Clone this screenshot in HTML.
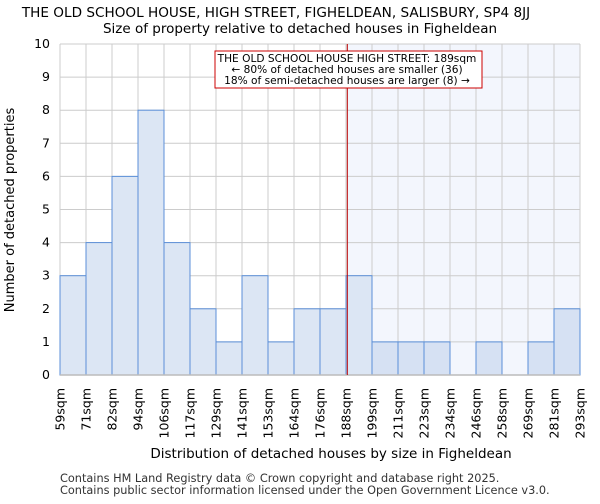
<!DOCTYPE html>
<html><head><meta charset="utf-8"><style>
body{margin:0;background:#fff;font-family:"DejaVu Sans","Liberation Sans",sans-serif;}
</style></head><body>
<svg width="600" height="500" xmlns="http://www.w3.org/2000/svg" font-family="DejaVu Sans, Liberation Sans, sans-serif">
<text x="276" y="17" text-anchor="middle" font-size="13.6">THE OLD SCHOOL HOUSE, HIGH STREET, FIGHELDEAN, SALISBURY, SP4 8JJ</text>
<text x="300" y="33" text-anchor="middle" font-size="13.5">Size of property relative to detached houses in Figheldean</text>
<g id="plot"></g>
<text x="331" y="458" text-anchor="middle" font-size="13.5">Distribution of detached houses by size in Figheldean</text>
<text transform="translate(14,210) rotate(-90)" text-anchor="middle" font-size="13">Number of detached properties</text>
<text x="60" y="482" font-size="11.3" fill="#333">Contains HM Land Registry data © Crown copyright and database right 2025.</text>
<text x="60" y="494" font-size="11.3" fill="#333">Contains public sector information licensed under the Open Government Licence v3.0.</text>
</svg>
<script>
const categories=["59sqm","71sqm","82sqm","94sqm","106sqm","117sqm","129sqm","141sqm","153sqm","164sqm","176sqm","188sqm","199sqm","211sqm","223sqm","234sqm","246sqm","258sqm","269sqm","281sqm","293sqm"];
const counts=[3,4,6,8,4,2,1,3,1,2,2,3,1,1,1,0,1,0,1,2];
const yTicks=[0,1,2,3,4,5,6,7,8,9,10];
const propertyIndex=11.05;
const NS="http://www.w3.org/2000/svg";
const g=document.getElementById('plot');
const L=60,R=580,T=44,B=375,yMax=10;
const bw=(R-L)/counts.length;
const xs=i=>L+i*bw;
const ys=v=>B-(v/yMax)*(B-T);
function mk(t,a){const e=document.createElementNS(NS,t);for(const k in a)e.setAttribute(k,a[k]);g.appendChild(e);return e;}
const px=xs(propertyIndex);
let e=mk('rect',{x:px,y:T,width:R-px,height:B-T,fill:'#f3f6fd'});


for(const t of yTicks){e=mk('line',{x1:L,x2:R,y1:ys(t),y2:ys(t),stroke:'#ccc','stroke-width':1});


e=mk('text',{x:L-10,y:ys(t)+4,'text-anchor':'end','font-size':12.5});e.textContent=t;

}
for(let i=0;i<=counts.length;i++){e=mk('line',{x1:xs(i),x2:xs(i),y1:T,y2:B,stroke:'#ccc','stroke-width':1});

}
counts.forEach((v,i)=>{if(v<=0)return;const right=xs(i)>=px-1;
e=mk('rect',{x:xs(i),y:ys(v),width:bw,height:B-ys(v),fill:right?'#d6e1f3':'#dce6f4',stroke:'#5b8fd8','stroke-width':1});

});
e=mk('line',{x1:L,x2:R,y1:B,y2:B,stroke:'#bbb','stroke-width':1.5});


categories.forEach((c,i)=>{const x=xs(i);e=mk('text',{transform:`translate(${x+4.5},388) rotate(-90)`,'text-anchor':'end','font-size':12.5});e.textContent=c;

});
e=mk('line',{x1:px,x2:px,y1:T,y2:B,stroke:'#b00','stroke-width':1});


e=mk('rect',{x:215,y:51,width:267,height:37,fill:'#fff',stroke:'#c00','stroke-width':1});


["THE OLD SCHOOL HOUSE HIGH STREET: 189sqm","← 80% of detached houses are smaller (36)","18% of semi-detached houses are larger (8) →"].forEach((s,k)=>{
e=mk('text',{x:347,y:62+k*11,'text-anchor':'middle','font-size':10.6});e.textContent=s;

});
</script>
</body></html>
